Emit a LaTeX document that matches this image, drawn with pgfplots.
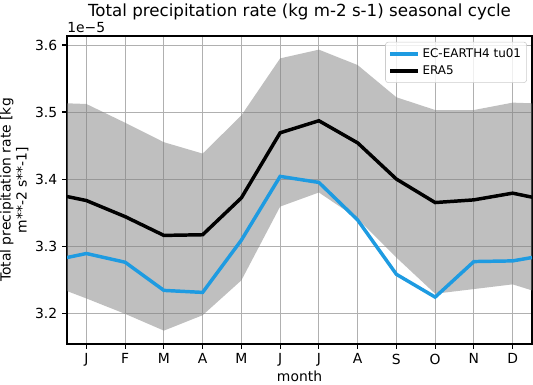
\documentclass[border=0pt]{standalone}
\usepackage{pgfplots}
\pgfplotsset{compat=1.18}
\usepackage{fontspec}
\setmainfont{DejaVu Sans}
\definecolor{ecblue}{RGB}{30,155,225}
\definecolor{gridgray}{RGB}{176,176,176}
\begin{document}
\begin{tikzpicture}
\begin{axis}[
  name=ax,
  scale only axis,
  width=334.8pt, height=221.8pt,
  xmin=0.5, xmax=12.5,
  ymin=3.154, ymax=3.6134,
  xtick={1,2,3,4,5,6,7,8,9,10,11,12},
  xticklabels={J,F,M,A,M,J,J,A,S,O,N,D},
  ytick={3.2,3.3,3.4,3.5,3.6},
  yticklabel style={/pgf/number format/fixed,/pgf/number format/precision=1,/pgf/number format/fixed zerofill},
  /pgf/number format/assume math mode=true,
  tick label style={font=\fontsize{10}{12}\selectfont},
  grid=major,
  major grid style={gridgray, line width=0.65pt},
  tick align=outside,
  major tick length=3.5pt,
  tick style={black, line width=0.8pt},
  axis line style={line width=0.8pt},
  xtick pos=bottom, ytick pos=left,
  xlabel={month},
  xlabel style={font=\fontsize{10}{12}\selectfont, yshift=4pt},
  ylabel={Total precipitation rate [kg\\m**-2 s**-1]},
  ylabel style={font=\fontsize{10}{11.5}\selectfont, align=center, yshift=-2pt},
  title={Total precipitation rate (kg m-2 s-1) seasonal cycle},
  title style={font=\fontsize{12}{14}\selectfont, yshift=2pt},
  legend style={at={(0.989,0.981)}, anchor=north east, font=\fontsize{8.6}{10}\selectfont,
    draw=gray!40, rounded corners=2pt, fill=white, fill opacity=0.8, text opacity=1,
    inner xsep=2pt, inner ysep=2.5pt, row sep=0.5pt},
  legend cell align=left,
  legend image code/.code={\draw[#1, line width=2.8pt] (0pt,0pt) -- (0.7cm,0pt);},
]
\addplot[fill=gray, fill opacity=0.5, draw=none, forget plot] coordinates {
(0.5,3.513) (1,3.512) (2,3.484) (3,3.455) (4,3.438) (5,3.495) (6,3.580) (7,3.593) (8,3.570) (9,3.522) (10,3.503) (11,3.503) (12,3.514) (12.5,3.513)
(12.5,3.234) (12,3.243) (11,3.236) (10,3.229) (9,3.283) (8,3.341) (7,3.380) (6,3.359) (5,3.249) (4,3.197) (3,3.174) (2,3.199) (1,3.222) (0.5,3.233)
} -- cycle;
\addplot[ecblue, line width=2.5pt] coordinates {
(0.5,3.283) (1,3.289) (2,3.276) (3,3.234) (4,3.231) (5,3.309) (6,3.404) (7,3.395) (8,3.339) (9,3.258) (10,3.224) (11,3.277) (12,3.278) (12.5,3.283)
};
\addlegendentry{EC-EARTH4 tu01}
\addplot[black, line width=2.5pt] coordinates {
(0.5,3.374) (1,3.368) (2,3.344) (3,3.316) (4,3.317) (5,3.372) (6,3.469) (7,3.487) (8,3.454) (9,3.400) (10,3.365) (11,3.369) (12,3.379) (12.5,3.373)
};
\addlegendentry{ERA5}
\end{axis}
\node[anchor=south west, font=\fontsize{10}{12}\selectfont, inner sep=0pt] at ([yshift=2.5pt]ax.north west) {1e−5};
\pgfresetboundingbox
\path[use as bounding box] (-48.24pt,-28.8pt) rectangle (335.5pt,247.7pt);
\end{tikzpicture}
\end{document}
